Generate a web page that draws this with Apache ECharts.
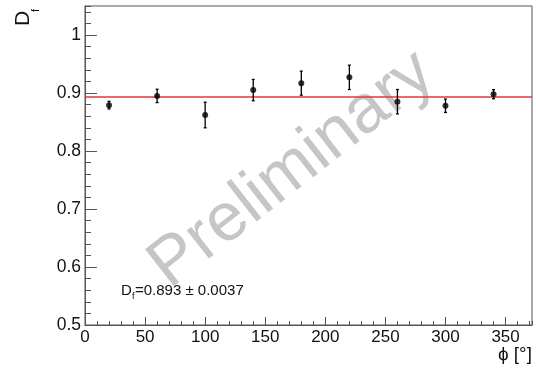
<!DOCTYPE html>
<html>
<head>
<meta charset="utf-8">
<script src="https://cdn.jsdelivr.net/npm/echarts@6/dist/echarts.min.js"></script>
<style>html,body{margin:0;padding:0;background:#fff;}#c{width:536px;height:369px;}</style>
</head>
<body>
<div id="c"></div>
<script>
// Data
var phi = [20, 60, 100, 140, 180, 220, 260, 300, 340];
var dfVal = [0.879, 0.895, 0.862, 0.905, 0.917, 0.927, 0.885, 0.878, 0.898];
var dfErr = [0.0066, 0.0115, 0.022, 0.0184, 0.0207, 0.021, 0.021, 0.0115, 0.0078];
var dfFit = 0.893;
var fitText = '=0.893 \u00b1 0.0037';

var chart = echarts.init(document.getElementById('c'), null, {renderer: 'canvas'});
var FONT = 'Liberation Sans, Arial, Helvetica, sans-serif';

var points = phi.map(function (x, i) { return [x, dfVal[i]]; });
var bars = phi.map(function (x, i) { return [x, dfVal[i] - dfErr[i], dfVal[i] + dfErr[i]]; });

var option = {
  animation: false,
  backgroundColor: '#fff',
  grid: {left: 85, right: 4, top: 6, bottom: 44, show: true, borderColor: '#555', borderWidth: 1, backgroundColor: 'transparent'},
  xAxis: [
    {type: 'value', min: 0, max: 372, interval: 50, position: 'bottom',
     axisLine: {show: true, lineStyle: {color: '#555', width: 1}},
     axisTick: {show: true, inside: true, length: 8, lineStyle: {color: '#555'}},
     axisLabel: {show: true, fontSize: 17, color: '#111', fontFamily: FONT, margin: 4, showMaxLabel: false},
     splitLine: {show: false}},
    {type: 'value', min: 0, max: 372, interval: 10, position: 'bottom', offset: 0,
     axisLine: {show: false},
     axisTick: {show: true, inside: true, length: 4, lineStyle: {color: '#555'}},
     axisLabel: {show: false}, splitLine: {show: false}}
  ],
  yAxis: [
    {type: 'value', min: 0.5, max: 1.05, interval: 0.1, position: 'left',
     axisLine: {show: true, lineStyle: {color: '#555', width: 1}},
     axisTick: {show: true, inside: true, length: 12, lineStyle: {color: '#555'}},
     axisLabel: {show: true, fontSize: 17.5, color: '#111', fontFamily: FONT, margin: 4, showMaxLabel: false,
                 formatter: function (v) { return Math.abs(v - 1) < 1e-9 ? '1' : v.toFixed(1); }},
     splitLine: {show: false}},
    {type: 'value', min: 0.5, max: 1.05, interval: 0.02, position: 'left', offset: 0,
     axisLine: {show: false},
     axisTick: {show: true, inside: true, length: 6, lineStyle: {color: '#555'}},
     axisLabel: {show: false}, splitLine: {show: false}}
  ],
  graphic: [
    {type: 'text', z: 0, x: 292, y: 170, rotation: 38 * Math.PI / 180,
     style: {text: 'Preliminary', fontSize: 68, fontFamily: FONT, fill: '#c6c6c6', align: 'center', verticalAlign: 'middle'}},
    {type: 'text', z: 10, rotation: Math.PI / 2, x: 34, y: 26,
     style: {text: 'D', fontSize: 21, fontFamily: FONT, fill: '#111', align: 'left', verticalAlign: 'bottom'}},
    {type: 'text', z: 10, rotation: Math.PI / 2, x: 41, y: 12,
     style: {text: 'f', fontSize: 11, fontFamily: FONT, fill: '#111', align: 'left', verticalAlign: 'bottom'}},
    {type: 'text', z: 10, x: 532, y: 364,
     style: {text: '\u03d5 [\u00b0]', fontSize: 19, fontFamily: FONT, fill: '#111', align: 'right', verticalAlign: 'bottom'}},
    {type: 'text', z: 10, x: 121, y: 298,
     style: {text: 'D', fontSize: 15, fontFamily: FONT, fill: '#111', align: 'left', verticalAlign: 'bottom'}},
    {type: 'text', z: 10, x: 132, y: 301,
     style: {text: 'f', fontSize: 9, fontFamily: FONT, fill: '#111', align: 'left', verticalAlign: 'bottom'}},
    {type: 'text', z: 10, x: 135, y: 298,
     style: {text: fitText, fontSize: 15, fontFamily: FONT, fill: '#111', align: 'left', verticalAlign: 'bottom'}}
  ],
  series: [
    {type: 'line', xAxisIndex: 0, yAxisIndex: 0, data: [[0, dfFit], [372, dfFit]], symbol: 'none',
     lineStyle: {color: '#e03a3a', width: 1.5}, z: 3, silent: true},
    {type: 'custom', xAxisIndex: 0, yAxisIndex: 0, data: bars, z: 4,
     renderItem: function (params, api) {
       var x = api.value(0);
       var lo = api.coord([x, api.value(1)]);
       var hi = api.coord([x, api.value(2)]);
       var cap = 1.5;
       var st = {stroke: '#000', lineWidth: 1.3};
       return {type: 'group', children: [
         {type: 'line', shape: {x1: lo[0], y1: lo[1], x2: hi[0], y2: hi[1]}, style: st},
         {type: 'line', shape: {x1: lo[0] - cap, y1: lo[1], x2: lo[0] + cap, y2: lo[1]}, style: st},
         {type: 'line', shape: {x1: hi[0] - cap, y1: hi[1], x2: hi[0] + cap, y2: hi[1]}, style: st}
       ]};
     }},
    {type: 'scatter', xAxisIndex: 0, yAxisIndex: 0, data: points, symbol: 'circle', symbolSize: 6,
     itemStyle: {color: '#000'}, z: 5}
  ]
};
chart.setOption(option);
</script>
</body>
</html>
